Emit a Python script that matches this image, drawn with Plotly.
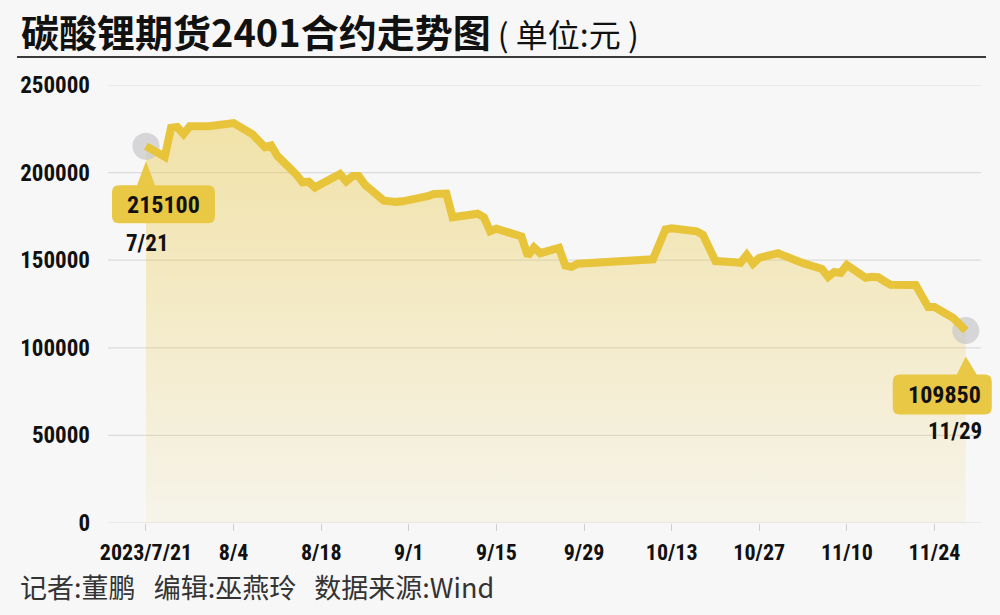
import plotly.graph_objects as go
import pandas as pd

# ---------------- data ----------------
dates = [
    "2023-07-21", "2023-07-24", "2023-07-25", "2023-07-26", "2023-07-27", "2023-07-28",
    "2023-07-31", "2023-08-01", "2023-08-02", "2023-08-03", "2023-08-04",
    "2023-08-07", "2023-08-08", "2023-08-09", "2023-08-10", "2023-08-11",
    "2023-08-14", "2023-08-15", "2023-08-16", "2023-08-17", "2023-08-18",
    "2023-08-21", "2023-08-22", "2023-08-23", "2023-08-24", "2023-08-25",
    "2023-08-28", "2023-08-29", "2023-08-30", "2023-08-31", "2023-09-01",
    "2023-09-04", "2023-09-05", "2023-09-06", "2023-09-07", "2023-09-08",
    "2023-09-11", "2023-09-12", "2023-09-13", "2023-09-14", "2023-09-15",
    "2023-09-18", "2023-09-19", "2023-09-20", "2023-09-21", "2023-09-22",
    "2023-09-25", "2023-09-26", "2023-09-27", "2023-09-28",
    "2023-10-09", "2023-10-10", "2023-10-11", "2023-10-12", "2023-10-13",
    "2023-10-16", "2023-10-17", "2023-10-18", "2023-10-19", "2023-10-20",
    "2023-10-23", "2023-10-24", "2023-10-25", "2023-10-26", "2023-10-27",
    "2023-10-30", "2023-10-31", "2023-11-01", "2023-11-02", "2023-11-03",
    "2023-11-06", "2023-11-07", "2023-11-08", "2023-11-09", "2023-11-10",
    "2023-11-13", "2023-11-14", "2023-11-15", "2023-11-16", "2023-11-17",
    "2023-11-20", "2023-11-21", "2023-11-22", "2023-11-23", "2023-11-24",
    "2023-11-27", "2023-11-28", "2023-11-29",
]
prices = [
    215100, 209000, 225500, 226000, 222000, 226500,
    226500, 227000, 227000, 227500, 228300,
    222000, 217500, 214500, 215500, 209500,
    199000, 194500, 194800, 191500, 193500,
    199200, 195000, 198000, 198000, 193000,
    184000, 183200, 183300, 183600, 184200,
    186500, 187800, 188300, 188000, 174500,
    176200, 176500, 174500, 166500, 168000,
    165000, 163500, 152500, 157300, 154000,
    157000, 147000, 146200, 148000,
    150000, 150500, 159000, 167500, 168200,
    167500, 166500, 164500, 156500, 149500,
    148800, 148500, 153000, 148000, 151300,
    154000, 152500, 151000, 149500, 148300,
    145000, 140500, 143300, 142700, 147300,
    140000, 140500, 140300, 138000, 136000,
    135800, 135800, 129500, 123300, 123300,
    117000, 113500, 109850,
]
tick_dates = ["2023-07-21", "2023-08-04", "2023-08-18", "2023-09-01", "2023-09-15",
              "2023-09-29", "2023-10-13", "2023-10-27", "2023-11-10", "2023-11-24"]
tick_labels = ["2023/7/21", "8/4", "8/18", "9/1", "9/15",
               "9/29", "10/13", "10/27", "11/10", "11/24"]
y_ticks = [0, 50000, 100000, 150000, 200000, 250000]
y_labels = ["0", "50000", "100000", "150000", "200000", "250000"]

title_main = "碳酸锂期货2401合约走势图"
title_unit = "&nbsp;(&nbsp;单位:元&nbsp;)"
footer = "记者:董鹏&nbsp;&nbsp;&nbsp;编辑:巫燕玲&nbsp;&nbsp;&nbsp;数据来源:Wind"

# ---------------- style / layout ----------------
W, H = 1000, 615
L, R, T, B = 108, 0, 85, 92
PW, PH = W - L - R, H - T - B

BG = "#f7f7f7"
LINE = "#e8c43a"
BOX = "#e9c846"
GRID = "#dcdcdc"
NUM_FONT = "Liberation Sans Narrow, Roboto Condensed, Arial Narrow, Roboto, sans-serif"
CJK_FONT = "Noto Sans CJK SC, Noto Sans, sans-serif"


def px_x(x):
    return (x - L) / PW


def px_y(y):
    return (H - B - y) / PH


x_start = pd.Timestamp("2023-07-21") - pd.Timedelta(days=6.07)
x_end = pd.Timestamp("2023-11-24") + pd.Timedelta(days=10.47)

fig = go.Figure()

# area fill
fig.add_trace(go.Scatter(
    x=dates, y=prices, mode="lines", line=dict(width=0, color=LINE),
    fill="tozeroy",
    fillgradient=dict(type="vertical", start=0, stop=230000,
                      colorscale=[[0, "rgba(233,197,58,0.07)"], [1, "rgba(233,197,58,0.42)"]]),
    hoverinfo="skip", showlegend=False,
))
# grey halo circles at first and last point
fig.add_trace(go.Scatter(
    x=[dates[0], dates[-1]], y=[prices[0], prices[-1]], mode="markers",
    marker=dict(size=27, color="rgba(200,200,204,0.7)"),
    hoverinfo="skip", showlegend=False, cliponaxis=False,
))
# line
fig.add_trace(go.Scatter(
    x=dates, y=prices, mode="lines", line=dict(width=8, color=LINE),
    hoverinfo="skip", showlegend=False,
))

shapes = []
# gridlines
for v in y_ticks:
    shapes.append(dict(type="line", xref="paper", yref="y", x0=px_x(108), x1=px_x(981),
                       y0=v, y1=v, line=dict(color=GRID, width=1.2), layer="below"))
# title underline
shapes.append(dict(type="line", xref="paper", yref="paper", x0=px_x(17), x1=px_x(986),
                   y0=px_y(57), y1=px_y(57), line=dict(color="#3a3a3a", width=2)))


def callout(xa, ya, left, right, top, bottom, tri_cx, tri_hw, apex_dx, apex_down, r=7):
    # pixel offsets relative to anchor, y-up coordinates
    t, b = -top, -bottom
    p = (f"M {tri_cx - tri_hw},{t} L {apex_dx},{-apex_down} L {tri_cx + tri_hw},{t} "
         f"L {right - r},{t} Q {right},{t} {right},{t - r} "
         f"L {right},{b + r} Q {right},{b} {right - r},{b} "
         f"L {left + r},{b} Q {left},{b} {left},{b + r} "
         f"L {left},{t - r} Q {left},{t} {left + r},{t} Z")
    return dict(type="path", xref="x", yref="y", xsizemode="pixel", ysizemode="pixel",
                xanchor=xa, yanchor=ya, path=p, fillcolor=BOX, line=dict(width=0))


shapes.append(callout(dates[0], prices[0], -34, 69, 39, 77, 0, 9, 0, 15))
shapes.append(callout(dates[-1], prices[-1], -73, 26, 44, 84, 1, 10, 0, 26))

annotations = [
    dict(x=dates[0], y=prices[0], xref="x", yref="y", text=f"{prices[0]}", showarrow=False,
         xshift=18, yshift=-59, font=dict(family=NUM_FONT, size=24, color="#111", weight="bold")),
    dict(x=dates[0], y=prices[0], xref="x", yref="y", text="7/21", showarrow=False,
         xshift=2, yshift=-97, font=dict(family=NUM_FONT, size=23, color="#111", weight="bold")),
    dict(x=dates[-1], y=prices[-1], xref="x", yref="y", text=f"{prices[-1]}", showarrow=False,
         xshift=-21, yshift=-64, font=dict(family=NUM_FONT, size=24, color="#111", weight="bold")),
    dict(x=dates[-1], y=prices[-1], xref="x", yref="y", text="11/29", showarrow=False,
         xshift=-11, yshift=-101, font=dict(family=NUM_FONT, size=23, color="#111", weight="bold")),
    dict(x=px_x(19), y=px_y(31), xref="paper", yref="paper", xanchor="left", yanchor="middle",
         showarrow=False,
         text=f"<b>{title_main}</b><span style='font-size:32px'>{title_unit}</span>",
         font=dict(family=CJK_FONT, size=38, color="#111")),
    dict(x=px_x(18), y=px_y(586), xref="paper", yref="paper", xanchor="left", yanchor="middle",
         showarrow=False, text=footer,
         font=dict(family=CJK_FONT, size=27, color="#333")),
]

fig.update_layout(
    width=W, height=H,
    margin=dict(l=L, r=R, t=T, b=B, pad=0),
    paper_bgcolor=BG, plot_bgcolor=BG,
    shapes=shapes, annotations=annotations,
    showlegend=False,
    xaxis=dict(type="date", range=[x_start, x_end], tickmode="array",
               tickvals=tick_dates, ticktext=tick_labels,
               showgrid=False, zeroline=False, showline=False,
               ticks="outside", ticklen=7, tickwidth=1, tickcolor="#cfcfcf",
               ticklabelstandoff=3,
               tickfont=dict(family=NUM_FONT, size=22, color="#111", weight="bold"),
               fixedrange=True),
    yaxis=dict(range=[0, 250000], tickmode="array", tickvals=y_ticks, ticktext=y_labels,
               showgrid=False, zeroline=False, showline=False, ticks="",
               ticklabelstandoff=17,
               tickfont=dict(family=NUM_FONT, size=23, color="#111", weight="bold"),
               fixedrange=True),
)

fig.write_html(
    "out.html",
    config={"displayModeBar": False},
    post_script="document.body.style.margin='0';document.body.style.padding='0';"
                "document.body.style.background='" + BG + "';",
)
